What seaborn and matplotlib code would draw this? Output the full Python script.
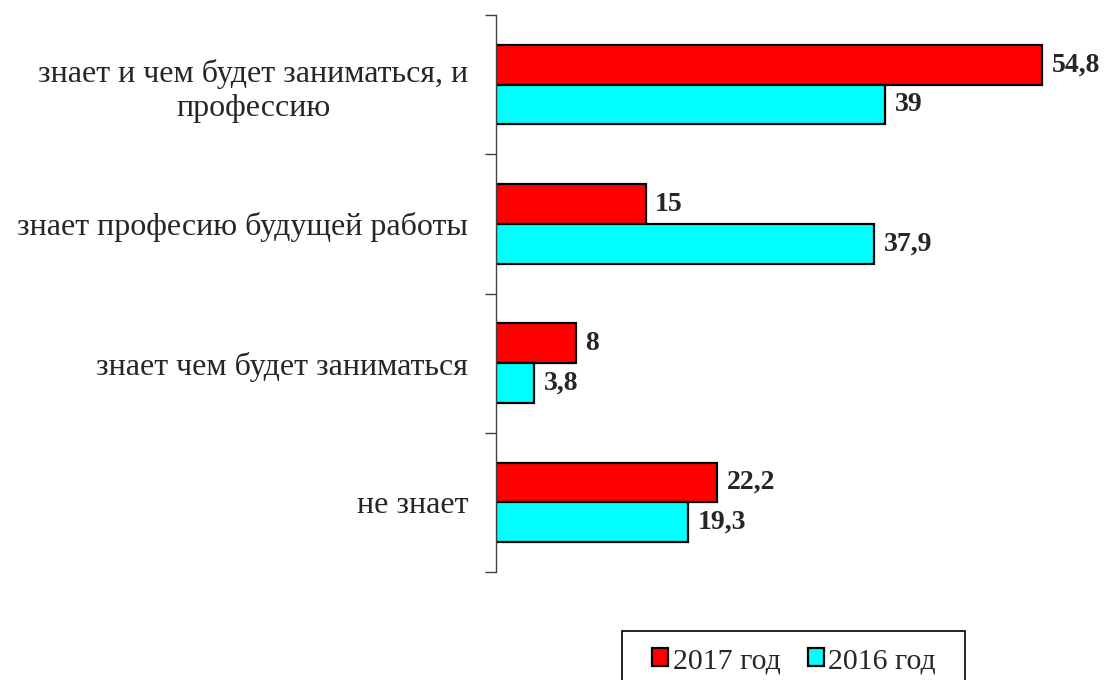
import pandas as pd
import seaborn as sns
import matplotlib.pyplot as plt
from matplotlib.patches import Rectangle

sns.set_style("white")
plt.rcParams['font.family'] = ['Liberation Serif', 'DejaVu Serif']

## DATA
categories = ['знает и чем будет заниматься, и\nпрофессию',
              'знает професию будущей работы',
              'знает чем будет заниматься',
              'не знает']
years = ['2017 год', '2016 год']
vals_2017 = [54.8, 15, 8, 22.2]
vals_2016 = [39, 37.9, 3.8, 19.3]
colours = ['#ff0000', '#00ffff']

df = pd.DataFrame({
    'cat': categories * 2,
    'year': [years[0]] * 4 + [years[1]] * 4,
    'val': vals_2017 + vals_2016,
})

## PLOT
fig = plt.figure(figsize=(11.06, 6.8), dpi=100)
ax = fig.add_axes([496 / 1106, 1 - 572 / 680, 598 / 1106, 557 / 680])

sns.barplot(data=df, y='cat', x='val', hue='year', order=categories,
            hue_order=years, palette=colours, orient='h', width=0.57,
            edgecolor='black', linewidth=1.6, saturation=1, ax=ax,
            legend=True)

for cont in ax.containers:
    labs = [('%g' % b.get_width()).replace('.', ',') for b in cont]
    ax.bar_label(cont, labels=labs, padding=7, fontsize=20,
                 fontweight='bold')

ax.set_xlim(0, 60)
ax.set_ylim(3.5, -0.5)
ax.set_xlabel('')
ax.set_ylabel('')
ax.set_xticks([])

# ticks between categories, labels at the centres
ax.set_yticks([-0.5, 0.5, 1.5, 2.5, 3.5])
ax.set_yticklabels([])
ax.set_yticks(range(4), categories, minor=True)
ax.tick_params(axis='y', which='major', length=8, width=1, color='#404040',
               direction='out', left=True)
ax.tick_params(axis='y', which='minor', length=0, pad=20, labelsize=23)
for lab in ax.get_yticklabels(minor=True):
    lab.set_multialignment('center')
    lab.set_linespacing(1.25)

sns.despine(ax=ax, top=True, right=True, bottom=True, left=False)
ax.spines['left'].set_color('#404040')
ax.spines['left'].set_linewidth(1)

# legend at the bottom, box runs off the lower edge
handles, labels = ax.get_legend_handles_labels()
ax.get_legend().remove()
leg = fig.legend(handles, labels, loc='upper left',
                 bbox_to_anchor=(652 / 1106, 1 - 648 / 680), ncol=2,
                 fontsize=21.5, frameon=False, borderpad=0, borderaxespad=0,
                 handlelength=0.55, handleheight=0.55,
                 handletextpad=0.15, columnspacing=0.9)
fig.patches.append(Rectangle((622 / 1106, -0.05), 343 / 1106, 0.05 + 49 / 680,
                             transform=fig.transFigure, fill=False,
                             edgecolor='black', linewidth=1.2))

plt.savefig('out.png', dpi=100)
